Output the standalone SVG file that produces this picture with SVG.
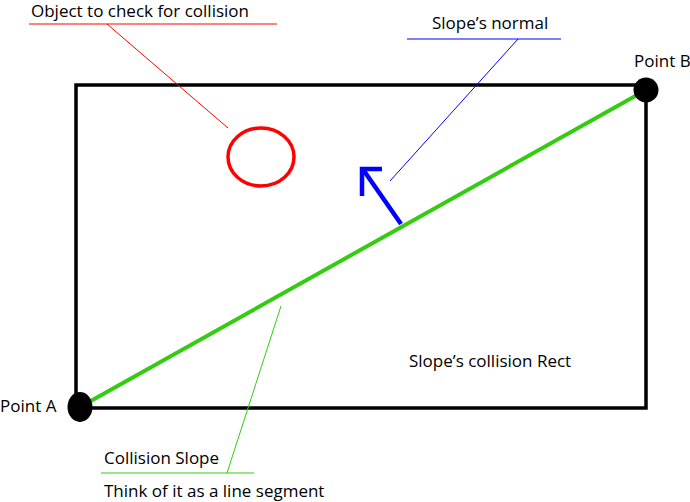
<svg xmlns="http://www.w3.org/2000/svg" width="690" height="502" viewBox="0 0 690 502">
<style>
text{font-family:"Open Sans","Noto Sans","Liberation Sans",sans-serif;font-size:17px;fill:#000}
.lead{fill:none;stroke-width:1}
</style>
<rect width="690" height="502" fill="#fff"/>
<g id="rect">
<rect x="76" y="85" width="570" height="323" fill="none" stroke="#000" stroke-width="3.5"/>
<text x="409" y="367">Slope’s collision Rect</text>
</g>
<g id="slope">
<line x1="80" y1="407" x2="646" y2="90" stroke="#3c1" stroke-width="4"/>
</g>
<g id="pointA">
<ellipse cx="80" cy="407" rx="12.5" ry="15" fill="#000"/>
<text x="0" y="412">Point A</text>
</g>
<g id="pointB">
<ellipse cx="646" cy="90" rx="12.5" ry="12.5" fill="#000"/>
<text x="634" y="67">Point B</text>
</g>
<g id="object">
<ellipse cx="261" cy="157" rx="33" ry="29" fill="none" stroke="#f00" stroke-width="3.5"/>
</g>
<g id="normal">
<polyline points="401,224 362,168" fill="none" stroke="#00f" stroke-width="4.5"/>
<polyline points="382,169 362,169 362,196" fill="none" stroke="#00f" stroke-width="4.5"/>
</g>
<g id="labelObject">
<text x="31" y="17">Object to check for collision</text>
</g>
<g id="labelNormal">
<text x="432" y="29">Slope’s normal</text>
</g>
<g id="labelSlope">
<text x="104" y="464">Collision Slope</text>
<text x="104" y="497">Think of it as a line segment</text>
</g>
<g id="connectors">
<polyline class="lead" points="29,24 277,24" stroke="#f00"/>
<line class="lead" x1="107" y1="24" x2="228" y2="128" stroke="#f00"/>
<polyline class="lead" points="407,39 561,39" stroke="#00f"/>
<line class="lead" x1="518" y1="39" x2="390" y2="181" stroke="#00f"/>
<polyline class="lead" points="101,473 254,473" stroke="#3c1"/>
<line class="lead" x1="227" y1="473" x2="281" y2="306" stroke="#3c1"/>
</g>
</svg>
